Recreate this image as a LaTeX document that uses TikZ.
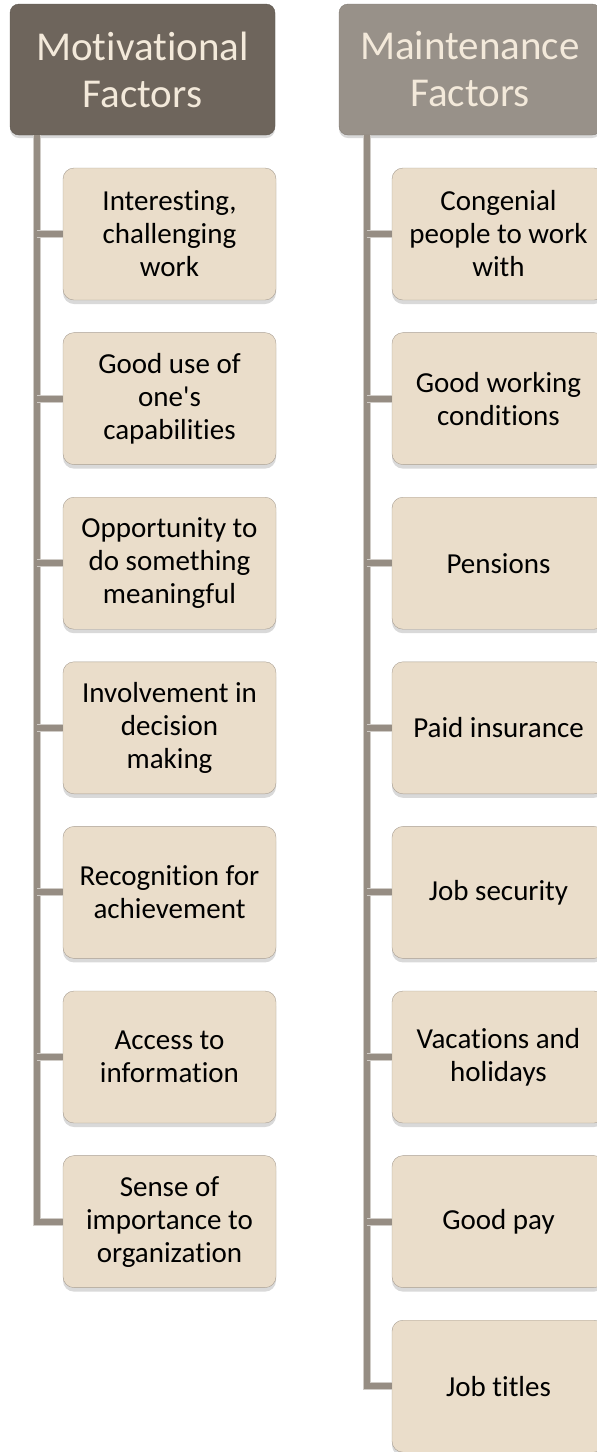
\documentclass[tikz,border=0pt]{standalone}
\usepackage{fontspec}
\setmainfont{Carlito}[Ligatures={NoCommon,TeXOff}]
\usetikzlibrary{positioning,shadows,calc}

\definecolor{hdrdark}{RGB}{110,101,92}
\definecolor{hdrlight}{RGB}{152,145,137}
\definecolor{hdrtext}{RGB}{243,233,218}
\definecolor{boxfill}{RGB}{234,221,202}
\definecolor{boxline}{RGB}{168,158,146}
\definecolor{conn}{RGB}{150,141,131}

\tikzset{
  hdr/.style={rounded corners=9pt, minimum height=131pt, align=center,
    text=hdrtext, font=\fontsize{41}{47}\selectfont, inner sep=0pt,
    draw=#1!85!black, fill=#1,
    drop shadow={shadow xshift=0pt, shadow yshift=-3pt, opacity=.3}},
  item/.style={rounded corners=11pt, minimum width=213pt, minimum height=132pt,
    align=center, font=\fontsize{29}{33}\selectfont, inner sep=0pt,
    draw=boxline, fill=boxfill,
    drop shadow={shadow xshift=0pt, shadow yshift=-4pt, opacity=.3}},
  link/.style={line width=6pt, draw=conn,
    preaction={draw=conn!45!white, line width=8pt}}
}

\begin{document}
\begin{tikzpicture}[x=1pt,y=-1pt]
\useasboundingbox (0,0) rectangle (597,1452);
\clip (0,0) rectangle (597,1452);

% headers
\node[hdr=hdrdark, minimum width=265pt] (mot) at (142.5,69.5) {Motivational\\Factors};
\node[hdr=hdrlight, minimum width=262pt] (mnt) at (470,69.5) {Maintenance\\Factors};

\coordinate (tl) at (37,135);
\coordinate (tr) at (367,135);

% motivational factors
\foreach \i/\txt in {1/{Interesting,\\challenging\\work},
    2/{Good use of\\one's\\capabilities},
    3/{Opportunity to\\do something\\meaningful},
    4/{Involvement in\\decision\\making},
    5/{Recognition for\\achievement},
    6/{Access to\\information},
    7/{Sense of\\importance to\\organization}}
  \node[item] (m\i) at (169.5,{234+164.6*(\i-1)}) {\txt};

% maintenance factors
\foreach \i/\txt in {1/{Congenial\\people to work\\with},
    2/{Good working\\conditions},
    3/{Pensions},
    4/{Paid insurance},
    5/{Job security},
    6/{Vacations and\\holidays},
    7/{Good pay},
    8/{Job titles}}
  \node[item] (n\i) at (498.5,{234+164.6*(\i-1)}) {\txt};

% trunks and branches
\draw[link] (tl) |- (m7.west);
\foreach \i in {1,...,6}
  \draw[link] (tl |- m\i.west) -- (m\i.west);
\draw[link] (tr) |- (n8.west);
\foreach \i in {1,...,7}
  \draw[link] (tr |- n\i.west) -- (n\i.west);
\end{tikzpicture}
\end{document}
